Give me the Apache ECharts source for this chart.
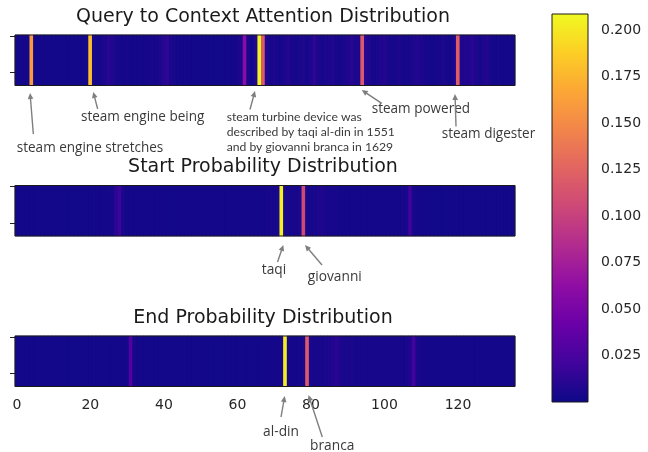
<!DOCTYPE html>
<html><head><meta charset="utf-8">
<script src="https://cdn.jsdelivr.net/npm/echarts@6/dist/echarts.min.js"></script>
<style>html,body{margin:0;padding:0;background:#fff}#c{width:648px;height:452px}</style>
</head><body><div id="c"></div>
<script>
// ---------------- data ----------------
const panelTitles = ['Query to Context Attention Distribution', 'Start Probability Distribution', 'End Probability Distribution'];
const xTickLabels = ['0', '20', '40', '60', '80', '100', '120'];
const colorbarTicks = [0.025, 0.05, 0.075, 0.1, 0.125, 0.15, 0.175, 0.2];
const colorMin = 0;
const colorMax = 0.2087;

const queryToContext = [
  0.003,0.002,0.003,0.003,0.160,0.003,0.002,0.002,0.002,0.002,
  0.002,0.002,0.002,0.002,0.002,0.002,0.003,0.002,0.002,0.004,
  0.180,0.004,0.003,0.004,0.006,0.010,0.008,0.005,0.004,0.003,
  0.004,0.003,0.002,0.003,0.002,0.003,0.004,0.004,0.004,0.006,
  0.010,0.013,0.006,0.004,0.003,0.002,0.003,0.002,0.002,0.002,
  0.002,0.002,0.002,0.002,0.002,0.002,0.002,0.002,0.003,0.002,
  0.004,0.006,0.060,0.005,0.003,0.008,0.205,0.118,0.009,0.004,
  0.006,0.004,0.004,0.006,0.009,0.004,0.004,0.005,0.006,0.004,
  0.007,0.013,0.006,0.004,0.005,0.006,0.008,0.004,0.004,0.005,
  0.007,0.010,0.006,0.007,0.118,0.010,0.006,0.004,0.005,0.007,
  0.009,0.005,0.004,0.004,0.006,0.004,0.004,0.004,0.006,0.008,
  0.007,0.004,0.004,0.003,0.004,0.004,0.006,0.004,0.003,0.006,
  0.120,0.006,0.008,0.007,0.011,0.006,0.004,0.007,0.009,0.004,
  0.003,0.004,0.003,0.002,0.003,0.002
];
const startProb = [
  0.002,0.002,0.002,0.002,0.002,0.002,0.002,0.002,0.002,0.002,
  0.002,0.002,0.002,0.002,0.002,0.002,0.002,0.002,0.002,0.002,
  0.002,0.002,0.003,0.003,0.003,0.003,0.004,0.012,0.018,0.005,
  0.003,0.003,0.002,0.003,0.003,0.003,0.002,0.003,0.003,0.003,
  0.003,0.003,0.003,0.002,0.003,0.003,0.003,0.002,0.003,0.003,
  0.003,0.003,0.003,0.003,0.003,0.003,0.003,0.003,0.003,0.003,
  0.003,0.003,0.003,0.003,0.003,0.003,0.003,0.003,0.004,0.004,
  0.004,0.005,0.205,0.005,0.004,0.004,0.004,0.005,0.106,0.005,
  0.004,0.005,0.006,0.007,0.005,0.004,0.004,0.004,0.003,0.003,
  0.003,0.003,0.003,0.003,0.003,0.003,0.003,0.003,0.003,0.003,
  0.003,0.003,0.003,0.003,0.003,0.004,0.005,0.020,0.004,0.003,
  0.003,0.003,0.002,0.002,0.002,0.002,0.002,0.002,0.002,0.002,
  0.002,0.002,0.002,0.002,0.002,0.002,0.002,0.002,0.002,0.002,
  0.002,0.002,0.002,0.002,0.002,0.002
];
const endProb = [
  0.002,0.002,0.002,0.002,0.002,0.002,0.002,0.002,0.002,0.002,
  0.002,0.002,0.002,0.002,0.002,0.002,0.002,0.002,0.002,0.002,
  0.002,0.002,0.002,0.002,0.002,0.002,0.002,0.003,0.003,0.003,
  0.004,0.030,0.004,0.003,0.002,0.002,0.002,0.002,0.002,0.002,
  0.002,0.002,0.002,0.002,0.002,0.002,0.002,0.002,0.002,0.002,
  0.002,0.002,0.002,0.002,0.002,0.002,0.002,0.002,0.002,0.002,
  0.002,0.002,0.002,0.002,0.002,0.002,0.002,0.003,0.003,0.003,
  0.003,0.003,0.004,0.203,0.004,0.003,0.003,0.004,0.005,0.118,
  0.005,0.004,0.004,0.004,0.005,0.006,0.009,0.011,0.007,0.005,
  0.005,0.005,0.004,0.004,0.004,0.004,0.004,0.004,0.004,0.004,
  0.004,0.004,0.004,0.004,0.004,0.004,0.005,0.008,0.022,0.005,
  0.004,0.003,0.003,0.003,0.003,0.003,0.003,0.003,0.003,0.003,
  0.003,0.003,0.003,0.003,0.003,0.003,0.003,0.003,0.003,0.003,
  0.003,0.003,0.003,0.003,0.003,0.003
];
const panelValues = [queryToContext, startProb, endProb];

// annotation labels and the column they point to
const annotationLabels = [
  'steam engine stretches', 'steam engine being',
  'steam turbine device was\ndescribed by taqi al-din in 1551\nand by giovanni branca in 1629',
  'steam powered', 'steam digester', 'taqi', 'giovanni', 'al-din', 'branca'
];
const annotationPanel = [0, 0, 0, 0, 0, 1, 1, 2, 2];
const annotationColumn = [4, 20, 66, 94, 120, 72, 78, 73, 79];

// ---------------- layout / style ----------------
const PLASMA = ['#0d0887','#41049d','#6a00a8','#8f0da4','#b12a90','#cc4778','#e16462','#f2844b','#fca636','#fcce25','#f0f921'];
const GRIDS = [
  {left: 15, top: 35, width: 500, height: 50.5},
  {left: 15, top: 185.5, width: 500, height: 50.5},
  {left: 15, top: 336, width: 500, height: 50.5}
];
const CB_GRID = {left: 552, top: 14, width: 36, height: 388};
const TITLE_Y = [17, 167.5, 318];
// [headDx, headY, tailDx, tailY, textDx, textY, align, kind]
const ANN_LAYOUT = [
  [-1.5, 93, 1.8, 134, -14.8, 147.7, 'left', 'a'],
  [2.9, 92, 7.3, 109, -9.4, 116.7, 'left', 'a'],
  [-4.5, 91, -9.5, 109.5, -32.8, 117.3, 'left', 'b'],
  [-0.7, 90, 19.3, 103.3, 9.3, 109, 'left', 'a'],
  [-3, 94, -2, 126.5, -16.3, 134.3, 'left', 'a'],
  [1.8, 245, -4, 262, -7.5, 270, 'center', 'c'],
  [1.4, 245, 18.4, 265, 4.2, 277, 'left', 'c'],
  [-0.5, 396, -4.2, 417, -4.2, 432, 'center', 'c'],
  [1.2, 395, 15, 437, 2.8, 446, 'left', 'c']
];

function fitFont(text, family, width) {
  const ctx = document.createElement('canvas').getContext('2d');
  ctx.font = '100px "' + family + '"';
  return 100 * width / ctx.measureText(text).width;
}
const annSizeA = fitFont('steam engine stretches', 'Open Sans', 146.6);
const annSizeB = fitFont('described by taqi al-din in 1551', 'Lato', 168.3);
const annSizeC = fitFont('giovanni', 'Open Sans', 54);

const columns = queryToContext.map((_, i) => String(i));
const tickShown = (i) => xTickLabels.indexOf(String(i)) >= 0;

const chart = echarts.init(document.getElementById('c'));

const grid = GRIDS.map(g => Object.assign({show: true, backgroundColor: '#0d0887', borderWidth: 0}, g));
grid.push(Object.assign({show: false}, CB_GRID));

const xAxis = GRIDS.map((g, p) => ({
  gridIndex: p, type: 'category', data: columns, boundaryGap: true,
  axisLine: {show: false},
  axisTick: {show: true, alignWithLabel: true, interval: tickShown, length: 5, lineStyle: {color: '#222', width: 1}},
  axisLabel: {show: p === 2, interval: tickShown, margin: 12, fontFamily: 'DejaVu Sans', fontSize: 14, color: '#262626'},
  splitLine: {show: false}
}));
xAxis.push({gridIndex: 3, type: 'value', min: 0, max: 1, show: false});

const yAxis = [];
GRIDS.forEach((g, p) => {
  yAxis.push({gridIndex: p, type: 'category', data: [''], show: false});
  yAxis.push({gridIndex: p, type: 'value', min: -0.5, max: 0.5, inverse: true, position: 'left',
    axisLine: {show: false}, axisLabel: {show: false}, splitLine: {show: false},
    axisTick: {show: true, length: 5, customValues: [-0.48, 0.245], lineStyle: {color: '#222', width: 1}}});
});
yAxis.push({gridIndex: 3, type: 'value', min: colorMin, max: colorMax, position: 'right',
  axisLine: {show: false}, splitLine: {show: false},
  axisTick: {show: true, length: 4, customValues: colorbarTicks, lineStyle: {color: '#222', width: 1}},
  axisLabel: {show: true, customValues: colorbarTicks, margin: 13, fontFamily: 'DejaVu Sans', fontSize: 14, color: '#262626',
    formatter: v => v.toFixed(3)}});

const series = panelValues.map((vals, p) => ({
  type: 'heatmap', xAxisIndex: p, yAxisIndex: 2 * p,
  data: vals.map((v, i) => [i, 0, v]),
  itemStyle: {borderWidth: 0}, emphasis: {disabled: true}, progressive: 0
}));
series.push({
  type: 'custom', xAxisIndex: 3, yAxisIndex: 6, silent: true,
  data: [[0, colorMin, 1, colorMax]],
  renderItem: (params, api) => {
    const p0 = api.coord([api.value(0), api.value(1)]);
    const p1 = api.coord([api.value(2), api.value(3)]);
    return {type: 'rect', shape: {x: p0[0], y: p1[1], width: p1[0] - p0[0], height: p0[1] - p1[1]},
      style: {fill: new echarts.graphic.LinearGradient(0, 1, 0, 0,
        PLASMA.map((c, i) => ({offset: i / (PLASMA.length - 1), color: c})))}};
  }
});

chart.setOption({
  animation: false,
  backgroundColor: '#ffffff',
  grid, xAxis, yAxis, series,
  visualMap: {type: 'continuous', show: false, min: colorMin, max: colorMax, seriesIndex: [0, 1, 2], inRange: {color: PLASMA}}
});

// ---------------- titles, frames, annotations ----------------
const graphics = [];
panelTitles.forEach((t, p) => {
  const g = GRIDS[p];
  graphics.push({type: 'text', x: g.left + g.width / 2 - 2, y: TITLE_Y[p], z: 100,
    style: {text: t, font: '19px "DejaVu Sans"', fill: '#1a1a1a', align: 'center', verticalAlign: 'middle', textAlign: 'center', textVerticalAlign: 'middle'}});
});
GRIDS.concat([CB_GRID]).forEach(g => {
  graphics.push({type: 'rect', z: 100, silent: true,
    shape: {x: g.left, y: g.top, width: g.width, height: g.height},
    style: {fill: null, stroke: '#1a1a1a', lineWidth: 1}});
});
annotationLabels.forEach((label, k) => {
  const L = ANN_LAYOUT[k];
  const cx = chart.convertToPixel({xAxisIndex: annotationPanel[k]}, annotationColumn[k]);
  const hx = cx + L[0], hy = L[1], tx = cx + L[2], ty = L[3];
  const dx = hx - tx, dy = hy - ty, len = Math.sqrt(dx * dx + dy * dy);
  const ux = dx / len, uy = dy / len, nx = -uy, ny = ux;
  const AL = 6, AW = 2.8;
  graphics.push({type: 'line', z: 100, shape: {x1: tx, y1: ty, x2: hx - ux * AL * 0.7, y2: hy - uy * AL * 0.7},
    style: {stroke: '#7f7f7f', lineWidth: 1.4}});
  graphics.push({type: 'polygon', z: 100, shape: {points: [[hx, hy], [hx - ux * AL + nx * AW, hy - uy * AL + ny * AW], [hx - ux * AL - nx * AW, hy - uy * AL - ny * AW]]},
    style: {fill: '#7f7f7f'}});
  let font, lh = null, y = L[5], va = 'middle';
  if (L[7] === 'a') font = annSizeA.toFixed(2) + 'px "Open Sans"';
  else if (L[7] === 'b') { font = annSizeB.toFixed(2) + 'px "Lato"'; lh = 14.7; y = L[5] - 7.35; va = 'top'; }
  else font = annSizeC.toFixed(2) + 'px "Open Sans"';
  const st = {text: label, font, fill: '#3a3a3a', align: L[6], verticalAlign: va, textAlign: L[6], textVerticalAlign: va};
  if (lh) st.lineHeight = lh;
  graphics.push({type: 'text', x: cx + L[4], y, z: 100, style: st});
});
chart.setOption({graphic: graphics});
</script>
</body></html>
